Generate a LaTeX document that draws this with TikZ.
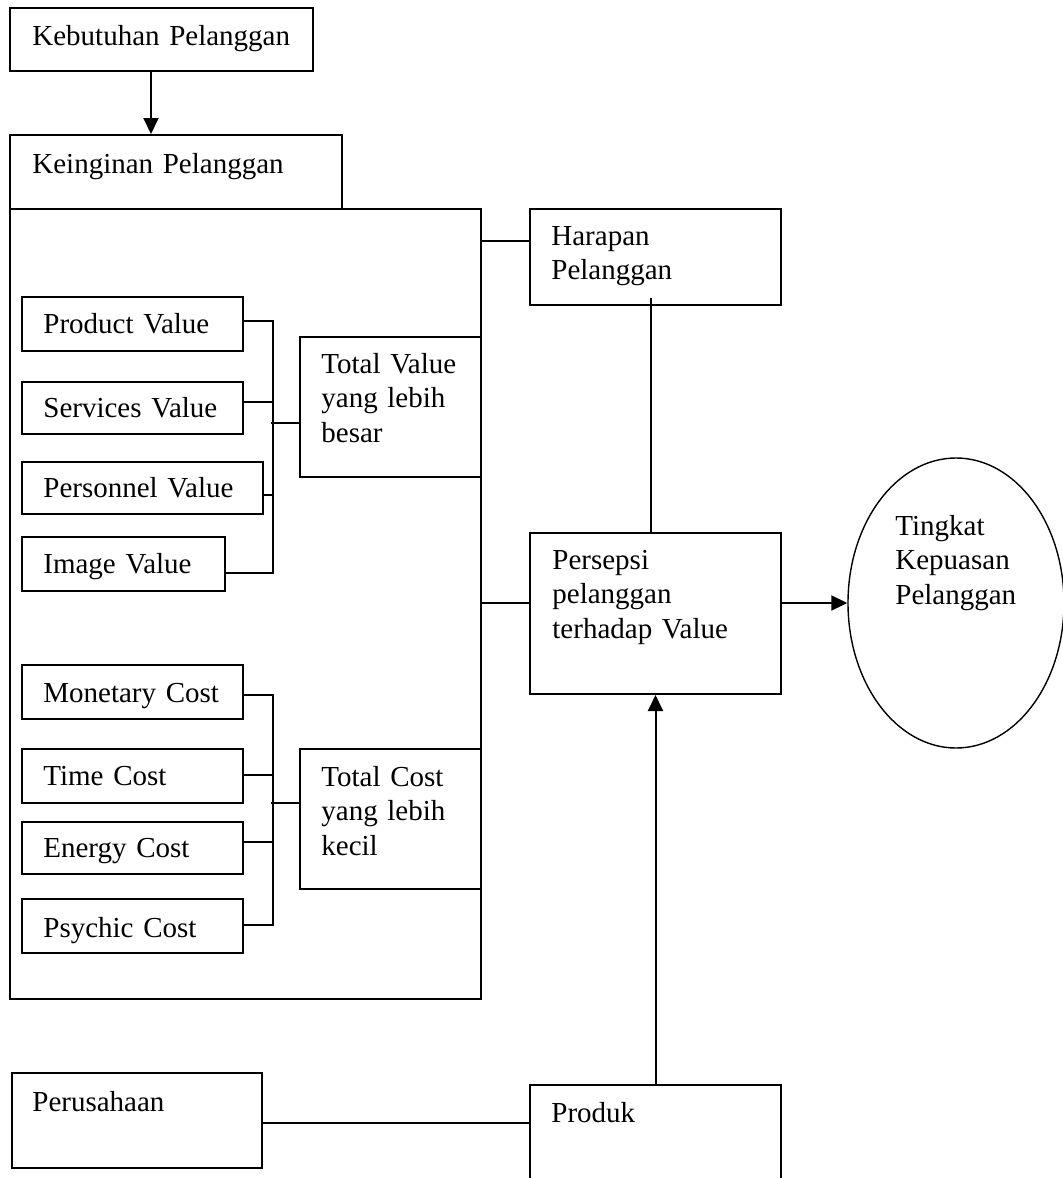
\documentclass[tikz,border=0pt]{standalone}
\usepackage{fontspec}
\setmainfont{Liberation Serif}
\usepackage{tikz}
\usetikzlibrary{arrows.meta,fit,shapes.geometric,positioning}

\begin{document}
\begin{tikzpicture}[x=0.5pt,y=-0.5pt,
        box/.style={draw, line width=1pt, inner sep=0pt},
        txt/.style={anchor=base west, inner sep=0pt, align=left, text width=150pt, font=\fontsize{14.5}{17.25}\selectfont},
        link/.style={line width=1pt},
        arr/.style={line width=1pt, -{Triangle[length=8pt,width=7.5pt]}}]

    \useasboundingbox (0,0) rectangle (1062,1178);

    % kebutuhan dan keinginan
    \node[box, fit={(10,8) (313,71)}] (kebutuhan) {};
    \node[txt] (kebutuhan-t) at (32,45) {Kebutuhan Pelanggan};
    \node[box, fit={(10,135) (342,209)}] (keinginan) {};
    \node[txt] (keinginan-t) at (32,173) {Keinginan Pelanggan};
    \node[box, fit={(10,209) (481,999)}] (nilai) {};
    \draw[arr] ([xshift=-5.25pt]kebutuhan.south) -- ([xshift=-5.25pt]kebutuhan.south |- keinginan.north);

    % value
    \coordinate (vbus) at (273,423);
    \foreach \n/\t/\r/\a/\b/\y/\c in {pv/Product Value/243/297/351/333/321, sv/Services Value/243/382/434/417/402,
            nv/Personnel Value/263/462/514/497/495, iv/Image Value/225/537/591/573/573}{
        \node[box, fit={(22,\a) (\r,\b)}] (\n) {};
        \node[txt] (\n-t) at (43,\y) {\t};
        \draw[link] (\n.east |- 0,\c) -| (vbus);
    }
    \node[box, fit={(300,337) (481,477)}] (tv) {};
    \node[txt] (tv-t) at (321,373) {Total Value\\yang lebih\\besar};
    \draw[link] ([xshift=-1pt]vbus) -- (vbus -| tv.west);

    % cost
    \coordinate (cbus) at (273,803);
    \foreach \n/\t/\a/\b/\y/\c in {mc/Monetary Cost/665/719/702/695, tc/Time Cost/749/803/785/775,
            ec/Energy Cost/822/874/857/842, pc/Psychic Cost/899/953/937/925}{
        \node[box, fit={(22,\a) (243,\b)}] (\n) {};
        \node[txt] (\n-t) at (43,\y) {\t};
        \draw[link] (\n.east |- 0,\c) -| (cbus);
    }
    \node[box, fit={(300,749) (481,889)}] (tk) {};
    \node[txt] (tk-t) at (321,786) {Total Cost\\yang lebih\\kecil};
    \draw[link] ([xshift=-1pt]cbus) -- (cbus -| tk.west);

    % harapan, persepsi, kepuasan
    \node[box, fit={(530,209) (781,305)}] (harapan) {};
    \node[txt] (harapan-t) at (551,245) {Harapan\\Pelanggan};
    \node[box, fit={(530,533) (781,694)}] (persepsi) {};
    \node[txt] (persepsi-t) at (552,569) {Persepsi\\pelanggan\\terhadap Value};
    \node[draw, ellipse, line width=0.7pt, inner sep=0pt, minimum width=108pt, minimum height=145pt] (kepuasan) at (956,603) {};
    \node[txt] (kepuasan-t) at (895,535) {Tingkat\\Kepuasan\\Pelanggan};

    \draw[link] (nilai.east |- 0,241) -- (harapan.west |- 0,241);
    \draw[link] (nilai.east |- 0,603) -- (persepsi.west |- 0,603);
    \draw[line width=0.7pt] ([xshift=-2.25pt,yshift=4pt]harapan.south) -- ([xshift=-2.25pt]persepsi.north);
    \draw[arr] (persepsi.east |- kepuasan.west) -- (kepuasan.west);

    % perusahaan dan produk
    \node[box, fit={(12,1073) (262,1168)}] (perusahaan) {};
    \node[txt] (perusahaan-t) at (32,1111) {Perusahaan};
    \node[box, fit={(530,1085) (781,1200)}] (produk) {};
    \node[txt] (produk-t) at (551,1122) {Produk};
    \draw[link] (perusahaan.east |- 0,1123) -- (produk.west |- 0,1123);
    \draw[arr] (produk.north) -- (produk.north |- persepsi.south);
\end{tikzpicture}
\end{document}
